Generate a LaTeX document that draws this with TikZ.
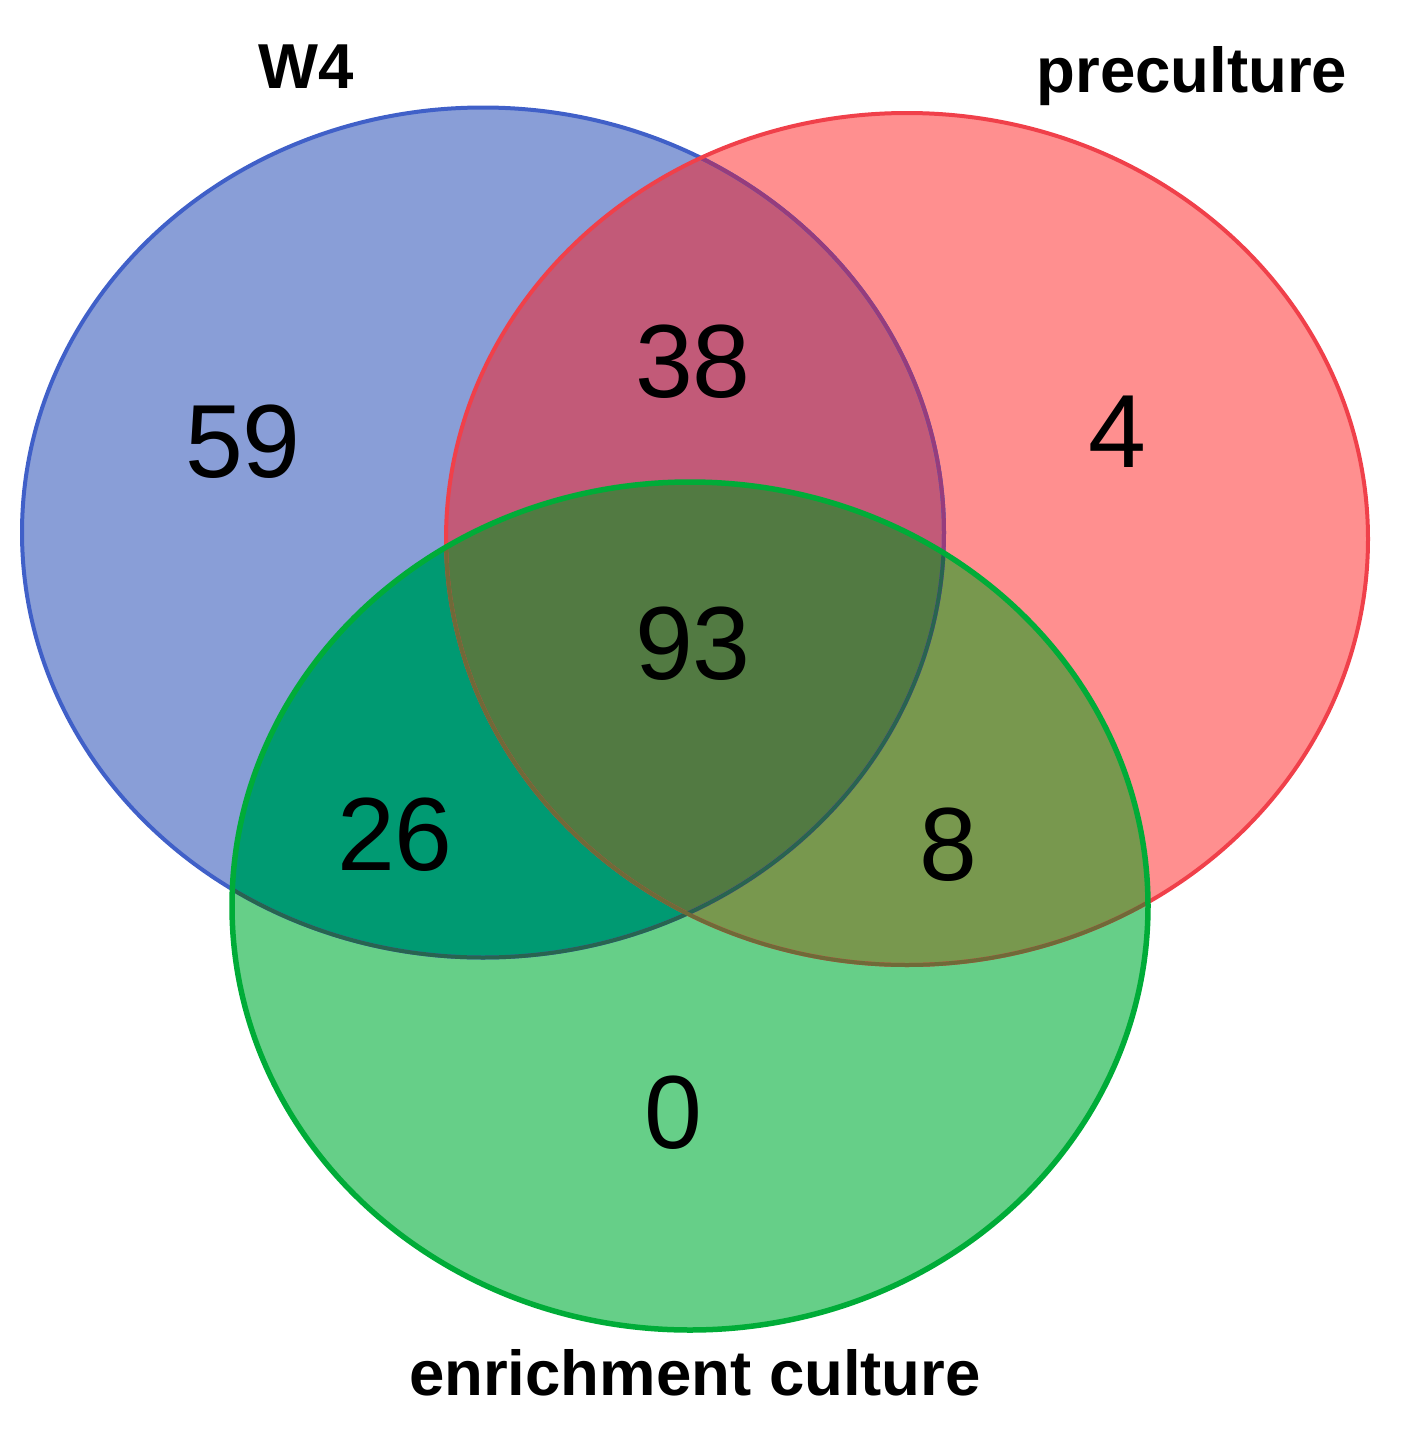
\documentclass[tikz,border=0pt]{standalone}
\usepackage{fontspec}
\setmainfont{Liberation Sans}
\definecolor{cA}{RGB}{137,158,215}
\definecolor{cB}{RGB}{255,143,143}
\definecolor{cC}{RGB}{102,207,136}
\definecolor{cAB}{RGB}{194,90,120}
\definecolor{cAC}{RGB}{0,154,114}
\definecolor{cBC}{RGB}{120,152,78}
\definecolor{cABC}{RGB}{82,122,66}
\definecolor{lA}{RGB}{64,96,200}
\definecolor{lAinB}{RGB}{150,60,125}
\definecolor{lAinC}{RGB}{40,100,80}
\definecolor{lB}{RGB}{240,64,74}
\definecolor{lBinC}{RGB}{112,106,56}
\definecolor{lC}{RGB}{0,172,56}
\begin{document}
\begin{tikzpicture}[x=1pt,y=-1pt,
  num/.style={font=\fontsize{104}{104}\selectfont, anchor=base, inner sep=0pt},
  lab/.style={font=\fontsize{63.5}{63.5}\selectfont\bfseries, anchor=base, inner sep=0pt},
  outl/.style={line width=4pt}]
\useasboundingbox (0,0) rectangle (1404,1430);
\def\ellA{(483,532.5) ellipse [x radius=461, y radius=425]}
\def\ellB{(907,539) ellipse [x radius=461, y radius=426]}
\def\ellC{(690,906) ellipse [x radius=458, y radius=424]}
% region fills
\fill[cA] \ellA;
\fill[cB] \ellB;
\fill[cC] \ellC;
\begin{scope}\clip \ellA; \fill[cAB] \ellB; \end{scope}
\begin{scope}\clip \ellA; \fill[cAC] \ellC; \end{scope}
\begin{scope}\clip \ellB; \fill[cBC] \ellC; \end{scope}
\begin{scope}\clip \ellA; \clip \ellB; \fill[cABC] \ellC; \end{scope}
% outlines
\draw[outl, lA] \ellA;
\begin{scope}\clip \ellB; \draw[outl, lAinB] \ellA; \end{scope}
\draw[outl, lB] \ellB;
\begin{scope}\clip \ellC; \draw[outl, lAinC] \ellA; \draw[outl, lBinC] \ellB; \end{scope}
\draw[line width=5.5pt, lC] \ellC;
% labels
\node[lab] (labA) at (306,88) {W4};
\node[lab] (labB) at (1192,92) {preculture};
\node[lab] (labC) at (695,1395) {enrichment culture};
% numbers
\node[num] (nA) at (243,477) {59};
\node[num] (nAB) at (693,397) {38};
\node[num] (nB) at (1117,467) {4};
\node[num] (nABC) at (693,679) {93};
\node[num] (nAC) at (395,870) {26};
\node[num] (nBC) at (948,880) {8};
\node[num] (nC) at (673,1148) {0};
\end{tikzpicture}
\end{document}
